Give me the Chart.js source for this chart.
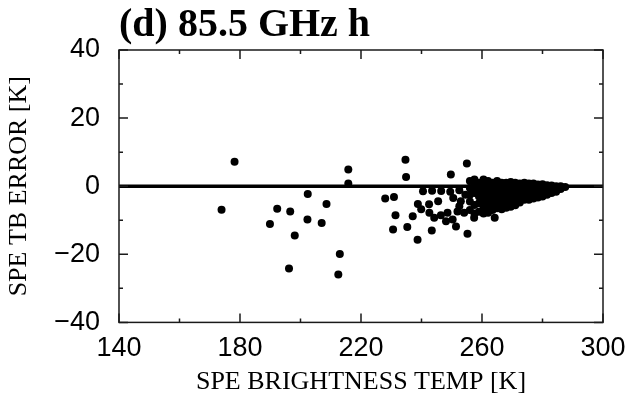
<!DOCTYPE html>
<html>
<head>
<meta charset="utf-8">
<script src="https://cdn.jsdelivr.net/npm/chart.js@4.4.0/dist/chart.umd.min.js"></script>
<style>
  html, body { margin: 0; padding: 0; background: #fff; }
</style>
</head>
<body>
<canvas id="chart" width="633" height="398"></canvas>
<script>
// axis ticks
const xTicks = [140, 180, 220, 260, 300];
const yTicks = [-40, -20, 0, 20, 40];
const xMinorTicks = [160, 200, 240, 280];
const yMinorTicks = [-30, -10, 10, 30];

// scattered points: SPE brightness temp [K] / TB error [K]
const sparseTemp = [
  173.9, 178.2, 189.9, 192.3, 196.6, 198.1, 196.2, 202.4, 202.3, 207.0,
  208.6, 213.0, 212.5, 215.8, 215.8, 228.0, 230.9, 231.4, 230.6, 234.7,
  234.9, 235.3, 238.7, 238.8, 237.1, 243.4, 249.7, 255.0, 255.2, 251.4,
  250.3, 257.4, 264.2, 239.9, 242.5, 245.5, 242.6, 244.2, 246.4, 248.6,
  248.1, 251.9, 252.5, 254.1, 253.0, 240.5, 243.5, 246.5, 249.5, 252.5,
  254.5, 250.5
];
const sparseError = [
  -6.9, 7.2, -11.1, -6.6, -7.4, -14.5, -24.2, -2.3, -9.8, -10.8,
  -5.2, -19.9, -25.9, 4.9, 0.8, -3.6, -3.2, -8.5, -12.7, 7.8,
  2.7, -12.0, -15.7, -5.2, -8.8, -13.0, 3.4, 6.7, -14.0, -11.8,
  -9.8, -9.3, -9.3, -6.8, -5.3, -4.4, -7.8, -9.3, -8.5, -7.8,
  -10.3, -7.4, -5.9, -7.8, -4.4, -1.5, -1.3, -1.4, -1.6, -1.2,
  -2.5, -3.5
];

// dense cluster of warm scenes
const clusterTemp = [
  256, 256, 256, 256, 256,
  257.5, 257.5, 257.5, 257.5, 257.5,
  259, 259, 259, 259, 259,
  260.5, 260.5, 260.5, 260.5, 260.5, 260.5,
  262, 262, 262, 262, 262, 262,
  263.5, 263.5, 263.5, 263.5, 263.5,
  265, 265, 265, 265, 265,
  266.5, 266.5, 266.5, 266.5, 266.5,
  268, 268, 268, 268, 268,
  269.5, 269.5, 269.5, 269.5, 269.5,
  271, 271, 271, 271, 271,
  272.5, 272.5, 272.5, 272.5,
  274, 274, 274, 274,
  275.5, 275.5, 275.5, 275.5,
  277, 277, 277, 277,
  278.5, 278.5, 278.5, 278.5,
  280, 280, 280, 280,
  281.5, 281.5, 281.5,
  283, 283, 283,
  284.5, 284.5, 284.5,
  286, 286,
  287.5
];
const clusterError = [
  1.5, -0.5, -2.5, -4.5, -7,
  2, 0, -2, -5.5, -8,
  1, -1, -3, -5, -7.5,
  2, 0, -2, -4, -6, -8,
  1.5, -0.5, -2.5, -4.5, -6.5, -7.8,
  1, -1, -3, -5, -7,
  1.5, -0.5, -2.5, -4.5, -6.5,
  1, -1, -3, -5, -6.8,
  1, -0.5, -2.5, -4.5, -6.3,
  1.2, -1, -3, -5, -6,
  1, -0.5, -2.5, -4, -5.6,
  0.8, -1, -3, -4.8,
  1, -0.5, -2, -4,
  0.8, -1, -2.5, -4,
  0.8, -0.5, -2, -3.6,
  0.5, -1, -2.5, -3.3,
  0.6, -0.5, -1.8, -3,
  0.3, -1, -2.5,
  0.2, -0.8, -2,
  0, -1, -1.6,
  0, -0.8,
  -0.2
];

// zero reference line
const zeroLineTemp = [140, 300];
const zeroLineError = [0, 0];

const toPoints = (xs, ys) => xs.map((v, i) => ({ x: v, y: ys[i] }));

// frame with inward ticks on all four sides
const frameTicks = {
  id: 'frameTicks',
  afterDatasetsDraw(chart) {
    const { ctx, chartArea: a, scales: { x, y } } = chart;
    ctx.save();
    ctx.strokeStyle = '#1a1a1a';
    ctx.lineWidth = 1.5;
    ctx.strokeRect(a.left, a.top, a.right - a.left, a.bottom - a.top);
    ctx.beginPath();
    const xMark = (v, len) => {
      const p = x.getPixelForValue(v);
      ctx.moveTo(p, a.bottom); ctx.lineTo(p, a.bottom - len);
      ctx.moveTo(p, a.top); ctx.lineTo(p, a.top + len);
    };
    const yMark = (v, len) => {
      const p = y.getPixelForValue(v);
      ctx.moveTo(a.left, p); ctx.lineTo(a.left + len, p);
      ctx.moveTo(a.right, p); ctx.lineTo(a.right - len, p);
    };
    xTicks.forEach(v => xMark(v, 9));
    xMinorTicks.forEach(v => xMark(v, 4));
    yTicks.forEach(v => yMark(v, 9));
    yMinorTicks.forEach(v => yMark(v, 4));
    ctx.stroke();
    ctx.restore();
  }
};

const tickFont = { family: 'Liberation Sans', size: 27 };
const titleFont = { family: 'Liberation Serif', size: 26 };

new Chart(document.getElementById('chart'), {
  type: 'scatter',
  data: {
    datasets: [
      {
        type: 'line',
        data: toPoints(zeroLineTemp, zeroLineError),
        borderColor: '#000',
        borderWidth: 3.5,
        pointRadius: 0
      },
      {
        data: toPoints(sparseTemp, sparseError),
        backgroundColor: '#000',
        borderWidth: 0,
        pointRadius: 4
      },
      {
        data: toPoints(clusterTemp, clusterError),
        backgroundColor: '#000',
        borderWidth: 0,
        pointRadius: 4
      }
    ]
  },
  options: {
    responsive: false,
    animation: false,
    layout: { padding: { left: 4, right: 30, top: 2, bottom: 0 } },
    plugins: {
      legend: { display: false },
      tooltip: { enabled: false },
      title: {
        display: true,
        text: '(d) 85.5 GHz h',
        align: 'start',
        fullSize: false,
        color: '#000',
        font: { family: 'Liberation Serif', size: 40, weight: 'bold' },
        padding: { top: 0, bottom: 0 }
      }
    },
    scales: {
      x: {
        type: 'linear',
        min: 140,
        max: 300,
        grid: { display: false },
        border: { display: false },
        ticks: {
          stepSize: 40,
          color: '#000',
          font: tickFont,
          padding: 2,
          maxRotation: 0
        },
        title: {
          display: true,
          text: 'SPE BRIGHTNESS TEMP [K]',
          color: '#000',
          font: titleFont,
          padding: { top: 0, bottom: 0 }
        }
      },
      y: {
        min: -40,
        max: 40,
        grid: { display: false },
        border: { display: false },
        ticks: {
          stepSize: 20,
          color: '#000',
          font: tickFont,
          padding: 11,
          callback: v => String(v).replace('-', '\u2212')
        },
        title: {
          display: true,
          text: 'SPE TB ERROR [K]',
          color: '#000',
          font: titleFont,
          padding: { top: 0, bottom: 8 }
        }
      }
    }
  },
  plugins: [frameTicks]
});
</script>
</body>
</html>
